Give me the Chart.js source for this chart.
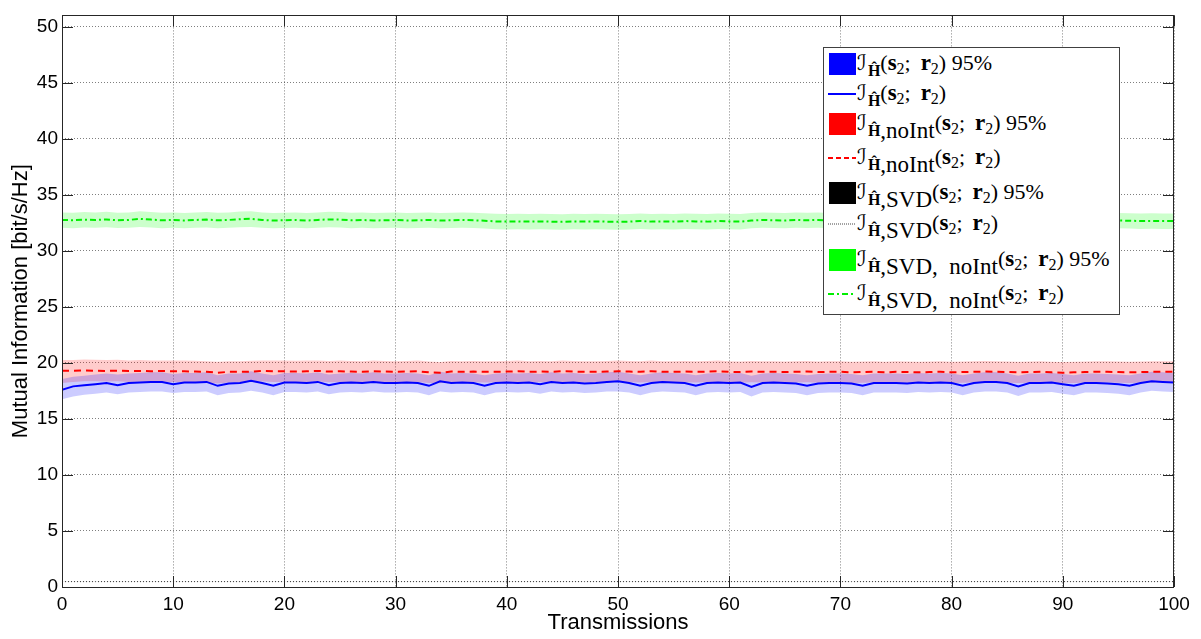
<!DOCTYPE html>
<html>
<head>
<meta charset="utf-8">
<script src="https://cdn.jsdelivr.net/npm/chart.js@4/dist/chart.umd.min.js"></script>
<style>
  body { margin: 0; background: #fff; }
  #wrap { position: relative; width: 1201px; height: 639px; }
  #legend { position: absolute; left: 823px; top: 47px; width: 295px; height: 266px; background: #fff;
            border: 1px solid #404040; font-family: "Liberation Serif", "DejaVu Serif", serif; font-size: 22px; color: #000; }
  .row { position: absolute; left: 0; height: 0; }
  .sw { position: absolute; left: 5px; top: -11px; width: 27px; height: 22px; }
  .ln { position: absolute; left: 4px; top: -3px; }
  .tx { position: absolute; left: 33px; top: -12px; white-space: nowrap; line-height: 22px; }
  .I { font-family: "DejaVu Sans", serif; font-size: 21px; margin-right: 1px; }
  .hat { font-size: 16px; font-weight: bold; position: relative; top: 6px; }
  .rm { font-size: 23px; position: relative; top: 8px; }
  .two { font-size: 16px; position: relative; top: 4px; }
  .b { font-weight: bold; font-size: 23px; }
</style>
</head>
<body>
<div id="wrap">
  <canvas id="mi" width="1201" height="639"></canvas>
  <div id="legend"></div>
</div>
<script>
// transmissions (x) and series values
var transmissions = [0,1,2,3,4,5,6,7,8,9,10,11,12,13,14,15,16,17,18,19,20,21,22,23,24,25,26,27,28,29,30,31,32,33,34,35,36,37,38,39,40,41,42,43,44,45,46,47,48,49,50,51,52,53,54,55,56,57,58,59,60,61,62,63,64,65,66,67,68,69,70,71,72,73,74,75,76,77,78,79,80,81,82,83,84,85,86,87,88,89,90,91,92,93,94,95,96,97,98,99,100];

var yTicks = [0,5,10,15,20,25,30,35,40,45,50];
var xTicks = [0,10,20,30,40,50,60,70,80,90,100];

// I_H(s2;r2)
var blueMean = [17.6,17.9,18.0,18.1,18.2,18.0,18.2,18.25,18.3,18.3,
  18.1,18.25,18.25,18.3,17.95,18.15,18.2,18.4,18.2,17.95,
  18.25,18.25,18.2,18.3,18.0,18.2,18.25,18.2,18.3,18.2,
  18.2,18.25,18.2,17.95,18.35,18.2,18.25,18.2,17.95,18.2,
  18.25,18.2,18.25,18.1,18.3,18.2,18.25,18.15,18.2,18.3,
  18.35,18.2,17.95,18.2,18.3,18.25,18.2,17.95,18.2,18.25,
  18.2,18.25,17.85,18.2,18.25,18.2,18.15,17.95,18.15,18.2,
  18.2,18.15,17.95,18.2,18.2,18.2,18.15,18.25,18.2,18.25,
  18.2,17.95,18.2,18.3,18.3,18.2,17.9,18.2,18.2,18.25,
  18.1,17.95,18.2,18.2,18.15,18.1,17.95,18.2,18.35,18.3,
  18.25];
var blueLow = [16.75,17.0,17.15,17.25,17.35,17.2,17.35,17.4,17.45,17.45,
  17.3,17.4,17.4,17.45,17.1,17.3,17.35,17.5,17.35,17.1,
  17.4,17.4,17.35,17.45,17.2,17.35,17.4,17.35,17.45,17.35,
  17.35,17.4,17.35,17.1,17.45,17.35,17.4,17.35,17.1,17.35,
  17.4,17.35,17.4,17.25,17.45,17.35,17.4,17.3,17.35,17.45,
  17.45,17.35,17.1,17.35,17.45,17.4,17.35,17.1,17.35,17.4,
  17.35,17.4,17.0,17.35,17.4,17.35,17.3,17.1,17.3,17.35,
  17.35,17.3,17.1,17.35,17.35,17.35,17.3,17.4,17.35,17.4,
  17.35,17.1,17.35,17.45,17.45,17.35,17.05,17.35,17.35,17.4,
  17.25,17.1,17.35,17.35,17.3,17.25,17.1,17.35,17.5,17.45,
  17.4];
var blueHigh = [18.55,18.75,18.85,18.95,19.05,18.95,19.05,19.1,19.15,19.15,
  19.0,19.1,19.1,19.15,18.9,19.05,19.05,19.25,19.05,18.9,
  19.1,19.1,19.05,19.15,18.95,19.05,19.1,19.05,19.15,19.05,
  19.05,19.1,19.05,18.9,19.2,19.05,19.1,19.05,18.9,19.05,
  19.1,19.05,19.1,19.0,19.15,19.05,19.1,19.0,19.05,19.15,
  19.2,19.05,18.9,19.05,19.15,19.1,19.05,18.9,19.05,19.1,
  19.05,19.1,18.85,19.05,19.1,19.05,19.0,18.9,19.0,19.05,
  19.05,19.0,18.9,19.05,19.05,19.05,19.0,19.1,19.05,19.1,
  19.05,18.9,19.05,19.15,19.15,19.05,18.85,19.05,19.05,19.1,
  19.0,18.9,19.05,19.05,19.0,18.95,18.9,19.05,19.2,19.15,
  19.1];

// I_H,noInt(s2;r2)
var redMean = [19.3,19.3,19.32,19.3,19.28,19.3,19.27,19.28,19.25,19.27,
  19.25,19.25,19.22,19.2,19.12,19.2,19.2,19.22,19.28,19.25,
  19.25,19.22,19.25,19.28,19.22,19.25,19.22,19.2,19.25,19.22,
  19.2,19.22,19.25,19.15,19.12,19.22,19.2,19.22,19.2,19.2,
  19.22,19.25,19.2,19.22,19.2,19.25,19.22,19.2,19.2,19.22,
  19.25,19.22,19.2,19.25,19.2,19.2,19.22,19.2,19.22,19.25,
  19.2,19.18,19.22,19.2,19.2,19.18,19.2,19.22,19.18,19.2,
  19.2,19.15,19.18,19.2,19.15,19.2,19.18,19.15,19.18,19.2,
  19.15,19.18,19.2,19.22,19.2,19.18,19.15,19.18,19.2,19.15,
  19.12,19.15,19.18,19.2,19.2,19.18,19.15,19.18,19.2,19.2,
  19.2];
var redLow = [18.2,18.3,18.35,18.35,18.33,18.35,18.3,18.32,18.3,18.32,
  18.3,18.3,18.28,18.25,18.15,18.25,18.25,18.28,18.33,18.3,
  18.3,18.28,18.3,18.33,18.27,18.3,18.28,18.25,18.3,18.28,
  18.25,18.27,18.3,18.2,18.17,18.27,18.25,18.27,18.25,18.25,
  18.27,18.3,18.25,18.27,18.25,18.3,18.27,18.25,18.25,18.27,
  18.3,18.27,18.25,18.3,18.25,18.25,18.27,18.25,18.27,18.3,
  18.25,18.23,18.27,18.25,18.25,18.23,18.25,18.27,18.23,18.25,
  18.25,18.2,18.23,18.25,18.2,18.25,18.23,18.2,18.23,18.25,
  18.2,18.23,18.25,18.27,18.25,18.23,18.2,18.23,18.25,18.2,
  18.17,18.2,18.23,18.25,18.25,18.23,18.2,18.23,18.25,18.25,
  18.25];
var redHigh = [20.25,20.25,20.3,20.28,20.25,20.28,20.22,20.25,20.2,20.22,
  20.2,20.22,20.18,20.15,20.1,20.15,20.15,20.18,20.22,20.2,
  20.2,20.18,20.2,20.22,20.17,20.2,20.17,20.15,20.2,20.17,
  20.15,20.17,20.2,20.12,20.08,20.17,20.15,20.17,20.15,20.15,
  20.17,20.2,20.15,20.17,20.15,20.2,20.17,20.15,20.15,20.17,
  20.2,20.17,20.15,20.2,20.15,20.15,20.17,20.15,20.17,20.2,
  20.15,20.12,20.17,20.15,20.15,20.12,20.15,20.17,20.12,20.15,
  20.15,20.1,20.12,20.15,20.1,20.15,20.12,20.1,20.12,20.15,
  20.1,20.12,20.15,20.17,20.15,20.12,20.1,20.12,20.15,20.1,
  20.07,20.1,20.12,20.15,20.15,20.12,20.1,20.12,20.15,20.15,
  20.15];

// I_H,SVD(s2;r2)
var svdMean = [0.48,0.48,0.48,0.48,0.48,0.48,0.48,0.48,0.48,0.48,
  0.48,0.48,0.48,0.48,0.48,0.48,0.48,0.48,0.48,0.48,
  0.48,0.48,0.48,0.48,0.48,0.48,0.48,0.48,0.48,0.48,
  0.48,0.48,0.48,0.48,0.48,0.48,0.48,0.48,0.48,0.48,
  0.48,0.48,0.48,0.48,0.48,0.48,0.48,0.48,0.48,0.48,
  0.48,0.48,0.48,0.48,0.48,0.48,0.48,0.48,0.48,0.48,
  0.48,0.48,0.48,0.48,0.48,0.48,0.48,0.48,0.48,0.48,
  0.48,0.48,0.48,0.48,0.48,0.48,0.48,0.48,0.48,0.48,
  0.48,0.48,0.48,0.48,0.48,0.48,0.48,0.48,0.48,0.48,
  0.48,0.48,0.48,0.48,0.48,0.48,0.48,0.48,0.48,0.48,
  0.48];
var svdLow = [0.46,0.46,0.46,0.46,0.46,0.46,0.46,0.46,0.46,0.46,
  0.46,0.46,0.46,0.46,0.46,0.46,0.46,0.46,0.46,0.46,
  0.46,0.46,0.46,0.46,0.46,0.46,0.46,0.46,0.46,0.46,
  0.46,0.46,0.46,0.46,0.46,0.46,0.46,0.46,0.46,0.46,
  0.46,0.46,0.46,0.46,0.46,0.46,0.46,0.46,0.46,0.46,
  0.46,0.46,0.46,0.46,0.46,0.46,0.46,0.46,0.46,0.46,
  0.46,0.46,0.46,0.46,0.46,0.46,0.46,0.46,0.46,0.46,
  0.46,0.46,0.46,0.46,0.46,0.46,0.46,0.46,0.46,0.46,
  0.46,0.46,0.46,0.46,0.46,0.46,0.46,0.46,0.46,0.46,
  0.46,0.46,0.46,0.46,0.46,0.46,0.46,0.46,0.46,0.46,
  0.46];
var svdHigh = [0.5,0.5,0.5,0.5,0.5,0.5,0.5,0.5,0.5,0.5,
  0.5,0.5,0.5,0.5,0.5,0.5,0.5,0.5,0.5,0.5,
  0.5,0.5,0.5,0.5,0.5,0.5,0.5,0.5,0.5,0.5,
  0.5,0.5,0.5,0.5,0.5,0.5,0.5,0.5,0.5,0.5,
  0.5,0.5,0.5,0.5,0.5,0.5,0.5,0.5,0.5,0.5,
  0.5,0.5,0.5,0.5,0.5,0.5,0.5,0.5,0.5,0.5,
  0.5,0.5,0.5,0.5,0.5,0.5,0.5,0.5,0.5,0.5,
  0.5,0.5,0.5,0.5,0.5,0.5,0.5,0.5,0.5,0.5,
  0.5,0.5,0.5,0.5,0.5,0.5,0.5,0.5,0.5,0.5,
  0.5,0.5,0.5,0.5,0.5,0.5,0.5,0.5,0.5,0.5,
  0.5];

// I_H,SVD,noInt(s2;r2)
var greenMean = [32.75,32.72,32.78,32.75,32.8,32.72,32.75,32.85,32.78,32.72,
  32.75,32.7,32.75,32.78,32.72,32.75,32.82,32.85,32.75,32.7,
  32.72,32.75,32.7,32.75,32.8,32.78,32.72,32.75,32.7,32.72,
  32.75,32.7,32.72,32.75,32.7,32.72,32.75,32.72,32.68,32.62,
  32.6,32.62,32.6,32.62,32.6,32.58,32.62,32.6,32.62,32.6,
  32.58,32.6,32.65,32.6,32.62,32.6,32.65,32.62,32.6,32.65,
  32.62,32.6,32.7,32.75,32.72,32.7,32.75,32.72,32.75,32.7,
  32.72,32.75,32.72,32.7,32.72,32.75,32.72,32.7,32.72,32.75,
  32.72,32.7,32.72,32.7,32.72,32.7,32.72,32.7,32.68,32.7,
  32.72,32.7,32.68,32.7,32.68,32.7,32.68,32.65,32.66,32.65,
  32.65];
var greenLow = [32.05,32.0,32.08,32.05,32.1,32.02,32.05,32.12,32.08,32.0,
  32.05,32.0,32.05,32.08,32.0,32.05,32.1,32.12,32.05,32.0,
  32.02,32.05,32.0,32.05,32.1,32.08,32.0,32.05,32.0,32.02,
  32.05,32.0,32.02,32.05,32.0,32.02,32.05,32.02,31.98,31.92,
  31.9,31.92,31.9,31.92,31.9,31.88,31.92,31.9,31.92,31.9,
  31.88,31.9,31.95,31.9,31.92,31.9,31.95,31.92,31.9,31.95,
  31.92,31.9,32.0,32.05,32.02,32.0,32.05,32.02,32.05,32.0,
  32.02,32.05,32.02,32.0,32.02,32.05,32.02,32.0,32.02,32.05,
  32.02,32.0,32.02,32.0,32.02,32.0,32.02,32.0,31.98,32.0,
  32.02,32.0,31.98,32.0,31.98,32.0,31.98,31.95,31.96,31.95,
  31.95];
var greenHigh = [33.42,33.4,33.45,33.42,33.48,33.4,33.42,33.52,33.45,33.4,
  33.42,33.38,33.42,33.45,33.4,33.42,33.5,33.52,33.42,33.38,
  33.4,33.42,33.38,33.42,33.48,33.45,33.4,33.42,33.38,33.4,
  33.42,33.38,33.4,33.42,33.38,33.4,33.42,33.4,33.35,33.3,
  33.28,33.3,33.28,33.3,33.28,33.25,33.3,33.28,33.3,33.28,
  33.25,33.28,33.32,33.28,33.3,33.28,33.32,33.3,33.28,33.32,
  33.3,33.28,33.38,33.42,33.4,33.38,33.42,33.4,33.42,33.38,
  33.4,33.42,33.4,33.38,33.4,33.42,33.4,33.38,33.4,33.42,
  33.4,33.38,33.4,33.38,33.4,33.38,33.4,33.38,33.35,33.38,
  33.4,33.38,33.35,33.38,33.35,33.38,33.35,33.32,33.34,33.32,
  33.32];

function pts(ys) {
    return transmissions.map(function (x, i) { return { x: x, y: ys[i] }; });
}

function band(low, high, color) {
    return [
        { data: pts(low), borderWidth: 0, pointRadius: 0, fill: false, order: 5 },
        { data: pts(high), borderWidth: 0, pointRadius: 0, fill: '-1', backgroundColor: color, order: 5 }
    ];
}

var datasets = [].concat(
    band(blueLow, blueHigh, 'rgba(0,0,255,0.2)'),
    band(redLow, redHigh, 'rgba(255,0,0,0.2)'),
    band(svdLow, svdHigh, 'rgba(0,0,0,0.2)'),
    band(greenLow, greenHigh, 'rgba(0,255,0,0.2)'),
    [
        { data: pts(blueMean), borderColor: '#0000ff', borderWidth: 2, pointRadius: 0, fill: false, order: 1 },
        { data: pts(redMean), borderColor: '#ff0000', borderWidth: 2, borderDash: [7, 5], pointRadius: 0, fill: false, order: 1 },
        { data: pts(svdMean), borderColor: '#333333', borderWidth: 1, borderDash: [1, 2], pointRadius: 0, fill: false, order: 1 },
        { data: pts(greenMean), borderColor: '#00ee00', borderWidth: 2, borderDash: [6, 3, 2, 3], pointRadius: 0, fill: false, order: 1 }
    ]
);

// matlab style box with inward ticks
var boxPlugin = {
    id: 'box',
    afterDatasetsDraw: function (chart) {
        var ctx = chart.ctx, a = chart.chartArea, xs = chart.scales.x, ys = chart.scales.y;
        ctx.save();
        ctx.strokeStyle = '#262626';
        ctx.lineWidth = 1;
        ctx.strokeRect(Math.round(a.left) + 0.5, Math.round(a.top) + 0.5, Math.round(a.width) - 1, Math.round(a.height));
        ctx.beginPath();
        xTicks.forEach(function (v) {
            var px = Math.round(xs.getPixelForValue(v)) + 0.5;
            ctx.moveTo(px, a.bottom); ctx.lineTo(px, a.bottom - 11);
            ctx.moveTo(px, a.top); ctx.lineTo(px, a.top + 11);
        });
        yTicks.forEach(function (v) {
            var py = Math.round(ys.getPixelForValue(v)) + 0.5;
            ctx.moveTo(a.left, py); ctx.lineTo(a.left + 11, py);
            ctx.moveTo(a.right, py); ctx.lineTo(a.right - 11, py);
        });
        ctx.stroke();
        ctx.restore();
    }
};

var gridDots = { color: 'rgba(0,0,0,0.5)', drawTicks: false, lineWidth: 1 };
var axisFont = 'Liberation Sans, Arial, sans-serif';

new Chart(document.getElementById('mi').getContext('2d'), {
    type: 'line',
    data: { datasets: datasets },
    options: {
        responsive: false,
        animation: false,
        events: [],
        layout: { padding: { top: 3, right: 27, left: 0, bottom: 0 } },
        plugins: { legend: { display: false }, tooltip: { enabled: false } },
        scales: {
            x: {
                type: 'linear', min: 0, max: 100,
                afterBuildTicks: function (s) { s.ticks = xTicks.map(function (v) { return { value: v }; }); },
                afterFit: function (s) { s.height = 52; },
                grid: gridDots,
                border: { display: false, dash: [1, 2] },
                ticks: { color: '#000', padding: 6, maxRotation: 0, font: { family: axisFont, size: 19 } },
                title: { display: true, text: 'Transmissions', color: '#000', padding: { top: 0, bottom: 3 },
                         font: { family: axisFont, size: 22 } }
            },
            y: {
                min: 0, max: 51,
                afterBuildTicks: function (s) { s.ticks = yTicks.map(function (v) { return { value: v }; }); },
                afterFit: function (s) { s.width = 62; },
                grid: gridDots,
                border: { display: false, dash: [1, 2] },
                ticks: { color: '#000', padding: 4, font: { family: axisFont, size: 19 } },
                title: { display: true, text: 'Mutual Information [bit/s/Hz]', color: '#000', padding: { top: 8, bottom: 0 },
                         font: { family: axisFont, size: 22 } }
            }
        }
    },
    plugins: [boxPlugin]
});

// legend (LaTeX-like labels as html text)
var legendRows = [
    { kind: 'box', color: '#0000ff', sub: '', tail: ' 95%', y: 16 },
    { kind: 'line', color: '#0000ff', dash: '', width: 2, sub: '', tail: '', y: 46 },
    { kind: 'box', color: '#ff0000', sub: ',noInt', tail: ' 95%', y: 76 },
    { kind: 'line', color: '#ff0000', dash: '5,3', width: 2, sub: ',noInt', tail: '', y: 110 },
    { kind: 'box', color: '#000000', sub: ',SVD', tail: ' 95%', y: 145 },
    { kind: 'line', color: '#444444', dash: '1,1', width: 1, sub: ',SVD', tail: '', y: 176 },
    { kind: 'box', color: '#00ff00', sub: ',SVD, noInt', tail: ' 95%', y: 212 },
    { kind: 'line', color: '#00ee00', dash: '6,3,2,3', width: 2, sub: ',SVD, noInt', tail: '', y: 246 }
];
var legendEl = document.getElementById('legend');
legendRows.forEach(function (r) {
    var row = document.createElement('div');
    row.className = 'row';
    row.style.top = r.y + 'px';
    var mark = r.kind === 'box'
        ? '<div class="sw" style="background:' + r.color + '"></div>'
        : '<svg class="ln" width="28" height="6"><line x1="0" y1="3" x2="28" y2="3" stroke="' + r.color +
          '" stroke-width="' + r.width + '"' + (r.dash ? ' stroke-dasharray="' + r.dash + '"' : '') + '/></svg>';
    row.innerHTML = mark + '<div class="tx"><span class="I">ℐ</span><span class="hat">Ĥ</span>' +
        (r.sub ? '<span class="rm">' + r.sub.replace(', ', ',&ensp;') + '</span>' : '') +
        '(<span class="b">s</span><span class="two">2</span>;&thinsp; <span class="b">r</span><span class="two">2</span>)' + r.tail + '</div>';
    legendEl.appendChild(row);
});
</script>
</body>
</html>
